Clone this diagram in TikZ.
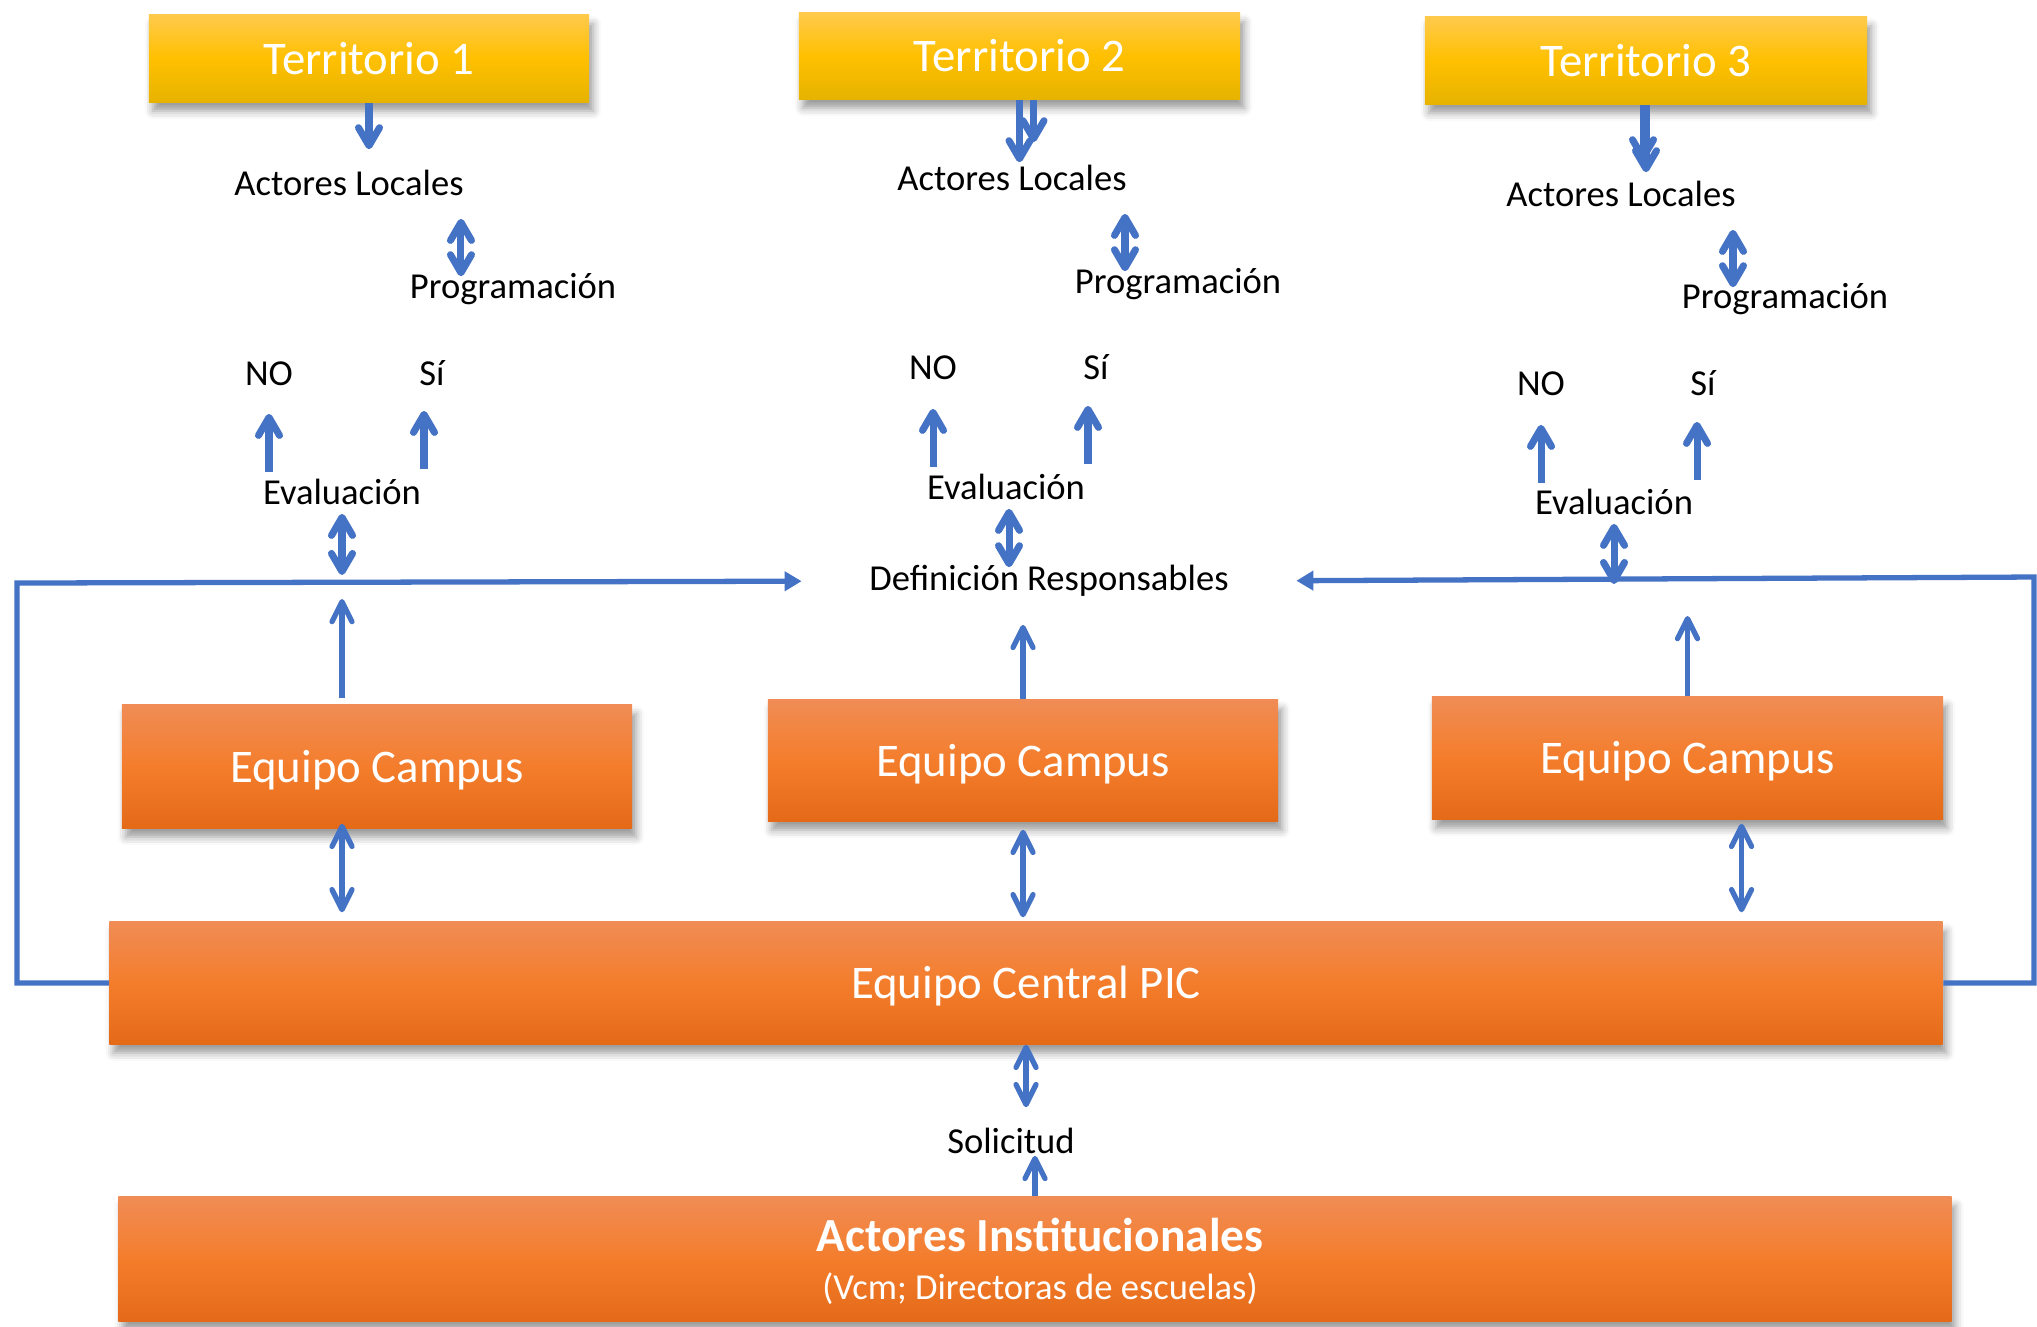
\documentclass[tikz,border=0pt]{standalone}
\usepackage{fontspec}
\setmainfont{Carlito}
\usetikzlibrary{arrows.meta, shadows.blur}

\definecolor{pblue}{HTML}{4472C4}
\definecolor{gold1}{HTML}{FFCA4C}
\definecolor{gold2}{HTML}{FFC000}
\definecolor{gold3}{HTML}{E6B300}
\definecolor{orng1}{HTML}{F08C55}
\definecolor{orng2}{HTML}{F47D2C}
\definecolor{orng3}{HTML}{E46A18}

\tikzset{
  fatbarb/.tip={Straight Barb[length=0.18cm, width=0.21cm, round]},
  thinbarb/.tip={Straight Barb[length=0.2cm, width=0.2cm, round]},
  boxbase/.style={rectangle, inner sep=0pt, text=white,
    font=\fontsize{13.3}{16}\selectfont, text height=12.6pt, text depth=3.6pt,
    blur shadow={shadow xshift=0.4mm, shadow yshift=-0.9mm, shadow blur radius=0.8mm, shadow opacity=40}},
  terrbox/.style={boxbase, top color=gold1, bottom color=gold3, middle color=gold2},
  teambox/.style={boxbase, top color=orng1, bottom color=orng3, middle color=orng2},
  lbl/.style={inner sep=0pt, anchor=base, font=\fontsize{10.4}{12.5}\selectfont,
    text height=7.7pt, text depth=2.6pt},
  fatarrow/.style={draw=pblue, line width=2pt, -fatbarb},
  fatdbl/.style={draw=pblue, line width=2pt, fatbarb-fatbarb},
  thinarrow/.style={draw=pblue, line width=1.5pt, -thinbarb},
  thindbl/.style={draw=pblue, line width=1.5pt, thinbarb-thinbarb},
  loopline/.style={draw=pblue, line width=1.5pt, -{Triangle[length=0.17cm, width=0.19cm]}}
}

\begin{document}
\begin{tikzpicture}[x=0.01cm, y=-0.01cm]
  \useasboundingbox (0,0) rectangle (2037,1326);

  % Territorios
  \node[terrbox, minimum width=4.40cm, minimum height=0.87cm] (t1) at (369,58.5) {Territorio 1};
  \node[terrbox, minimum width=4.41cm, minimum height=0.86cm] (t2) at (1019.5,56) {Territorio 2};
  \node[terrbox, minimum width=4.42cm, minimum height=0.87cm] (t3) at (1646,60.5) {Territorio 3};

  % Equipos
  \node[teambox, minimum width=5.10cm, minimum height=1.23cm] (c1) at (377,766.5) {Equipo Campus};
  \node[teambox, minimum width=5.10cm, minimum height=1.21cm] (c2) at (1023,760.5) {Equipo Campus};
  \node[teambox, minimum width=5.11cm, minimum height=1.22cm] (c3) at (1687.5,758) {Equipo Campus};
  \node[teambox, minimum width=18.32cm, minimum height=1.22cm] (central) at (1026,983) {Equipo Central PIC};
  \node[teambox, minimum width=18.32cm, minimum height=1.24cm] (inst) at (1035,1259) {};
  \node[lbl, text=white, font=\bfseries\fontsize{13.5}{16}\selectfont] (insttitle) at (1040,1251) {Actores Institucionales};
  \node[lbl, text=white] (instsub) at (1040,1299) {(Vcm; Directoras de escuelas)};

  % Etiquetas, columna 1
  \node[lbl] (al1) at (349,195) {Actores Locales};
  \node[lbl] (pr1) at (513,298) {Programación};
  \node[lbl] (no1) at (269,385) {NO};
  \node[lbl] (si1) at (432,385) {Sí};
  \node[lbl] (ev1) at (342,504) {Evaluación};
  % columna 2
  \node[lbl] (al2) at (1012,190) {Actores Locales};
  \node[lbl] (pr2) at (1178,293) {Programación};
  \node[lbl] (no2) at (933,379) {NO};
  \node[lbl] (si2) at (1096,379) {Sí};
  \node[lbl] (ev2) at (1006,499) {Evaluación};
  % columna 3
  \node[lbl] (al3) at (1621,206) {Actores Locales};
  \node[lbl] (pr3) at (1785,308) {Programación};
  \node[lbl] (no3) at (1541,395) {NO};
  \node[lbl] (si3) at (1703,395) {Sí};
  \node[lbl] (ev3) at (1614,514) {Evaluación};

  \node[lbl] (def) at (1049,590) {Definición Responsables};
  \node[lbl] (sol) at (1011,1153) {Solicitud};

  % Lazos de retorno
  \coordinate (loopL) at (17,583);
  \coordinate (loopR) at (2034,577);
  \draw[loopline, shorten >=0.67cm] (central.west) -- (central.west -| loopL) -- (loopL) -- (def.west);
  \draw[loopline, shorten >=0.67cm] (central.east) -- (central.east -| loopR) -- (loopR) -- (def.east);

  % Flechas columna 1
  \draw[fatarrow, shorten >=0.18cm] (t1.south) -- (t1.south |- al1.north);
  \draw[fatdbl, shorten <=0.14cm, shorten >=-0.06cm] ([xshift=-0.52cm]pr1.north |- al1.south) -- ([xshift=-0.52cm]pr1.north);
  \draw[fatarrow, shorten <=0.04cm, shorten >=0.19cm] (no1.south |- ev1.north) -- (no1.south);
  \draw[fatarrow, shorten <=0.07cm, shorten >=0.16cm] ([xshift=-0.08cm]si1.south |- ev1.north) -- ([xshift=-0.08cm]si1.south);
  \draw[fatdbl, shorten >=0.08cm] (ev1.south) -- (ev1.south |- loopL);
  \draw[thinarrow, shorten <=0.06cm, shorten >=0.16cm] (ev1.south |- c1.north) -- (ev1.south |- loopL);
  \draw[thindbl, shorten <=-0.05cm, shorten >=0.09cm] (ev1.south |- c1.south) -- (ev1.south |- central.north);

  % Flechas columna 2
  \draw[fatarrow] (t2.south) -- (t2.south |- al2.north);
  \draw[fatarrow, shorten >=0.2cm] ([xshift=0.14cm]t2.south) -- ([xshift=0.14cm]t2.south |- al2.north);
  \draw[fatdbl, shorten <=0.14cm, shorten >=-0.06cm] ([xshift=-0.53cm]pr2.north |- al2.south) -- ([xshift=-0.53cm]pr2.north);
  \draw[fatarrow, shorten <=0.04cm, shorten >=0.2cm] (no2.south |- ev2.north) -- (no2.south);
  \draw[fatarrow, shorten <=0.07cm, shorten >=0.17cm] ([xshift=-0.08cm]si2.south |- ev2.north) -- ([xshift=-0.08cm]si2.south);
  \draw[fatdbl, shorten >=-0.05cm] ([xshift=0.03cm]ev2.south) -- ([xshift=0.03cm]ev2.south |- def.north);
  \draw[thinarrow, shorten >=0.25cm] (c2.north) -- (c2.north |- def.south);
  \draw[thindbl, shorten <=0.08cm, shorten >=0.04cm] (c2.south) -- (c2.south |- central.north);

  % Flechas columna 3
  \draw[fatarrow, shorten >=0.06cm] (t3.south) -- (t3.south |- al3.north);
  \draw[fatarrow, shorten >=0.17cm] ([xshift=-0.03cm]t3.south) -- ([xshift=-0.03cm]t3.south |- al3.north);
  \draw[fatdbl, shorten <=0.14cm, shorten >=-0.07cm] ([xshift=-0.52cm]pr3.north |- al3.south) -- ([xshift=-0.52cm]pr3.north);
  \draw[fatarrow, shorten <=0.03cm, shorten >=0.2cm] (no3.south |- ev3.north) -- (no3.south);
  \draw[fatarrow, shorten <=0.06cm, shorten >=0.17cm] ([xshift=-0.06cm]si3.south |- ev3.north) -- ([xshift=-0.06cm]si3.south);
  \draw[fatdbl, shorten >=-0.07cm] (ev3.south) -- (ev3.south |- loopR);
  \draw[thinarrow, shorten >=0.39cm] (c3.north) -- (c3.north |- loopR);
  \draw[thindbl, shorten <=0.04cm, shorten >=0.09cm] ([xshift=0.54cm]c3.south) -- ([xshift=0.54cm]c3.south |- central.north);

  % Solicitud
  \draw[thindbl, shorten >=0.18cm] (central.south) -- (central.south |- sol.north);
  \draw[thinarrow, shorten >=-0.07cm] (inst.north) -- (inst.north |- sol.south);
\end{tikzpicture}
\end{document}
